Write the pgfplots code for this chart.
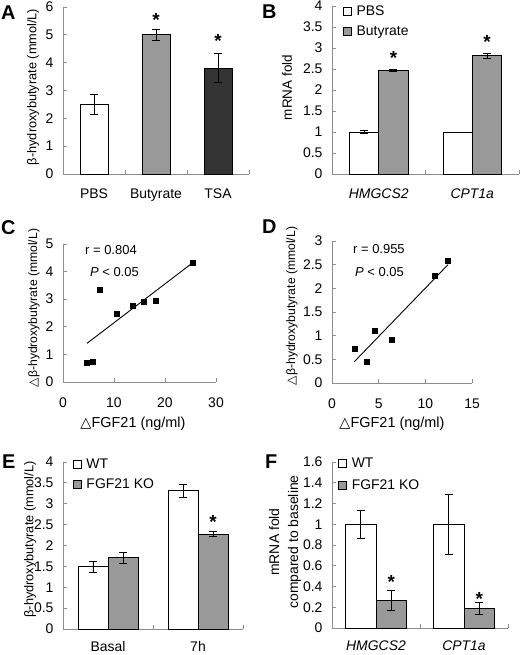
\documentclass[border=0pt]{standalone}
\usepackage{fontspec}
\setmainfont{Liberation Sans}
\newfontfamily\dejavu{DejaVu Sans}
\usepackage{pgfplots}
\pgfplotsset{compat=1.18}
\usetikzlibrary{plotmarks}

\definecolor{barfill}{HTML}{999999}
\definecolor{bardark}{HTML}{333333}
\definecolor{axisgray}{HTML}{8C8C8C}

\newcommand\tri{{\dejavu △}}

\pgfplotsset{
  panel/.style={
    scale only axis, anchor=south west, enlargelimits=false, clip=false,
    axis lines*=left,
    axis line style={axisgray, line width=0.8bp},
    tick align=inside, major tick length=4bp, minor tick length=4bp,
    every tick/.style={axisgray, line width=0.8bp},
    tick label style={font=\fontsize{14}{16}\selectfont},
    yticklabel style={xshift=-6bp},
    /pgf/number format/assume math mode=true,
  },
  barpanel/.style={panel,
    ymin=0, xmin=-0.5,
    every major x tick/.style={draw=none},
    xticklabel style={yshift=-11bp},
  },
  bars/.style={ybar, bar width=#1, bar shift=0, draw=black, line width=0.8bp,
    error bars/y dir=both, error bars/y explicit,
    error bars/error bar style={black, line width=0.8bp},
    error bars/error mark options={rotate=90, mark size=4bp, black, line width=0.8bp}},
  swatch/.style={legend image code/.code={
    \draw[##1, line width=0.8bp] (0bp,-3.5bp) rectangle (7.5bp,4bp);
    \path[draw=none, fill=none] (0bp,0bp) -- (12bp,0bp);}},
  star/.style={only marks, mark=text, text mark={*}, text mark as node=true,
    text mark style={font=\bfseries\fontsize{19}{19}\selectfont, yshift=-4.5bp, inner sep=0pt},
    forget plot},
  lgd/.style={legend cell align=left,
    legend style={draw=none, fill=none, inner sep=0pt, row sep=5bp,
      font=\fontsize{14}{16}\selectfont,
      nodes={inner sep=1bp, text height=10bp, text depth=3bp}}},
}
\tikzset{
  ylab/.style={rotate=90, anchor=center, inner sep=0pt},
  xlab/.style={anchor=center, inner sep=0pt, font=\fontsize{14.5}{16}\selectfont},
  note/.style={anchor=west, inner sep=0pt, font=\fontsize{13}{15}\selectfont},
  letter/.style={anchor=north west, inner sep=0pt, font=\bfseries\fontsize{20}{20}\selectfont},
}

\begin{document}
\begin{tikzpicture}[x=1bp, y=1bp]
\useasboundingbox (0,0) rectangle (520,655);

% ---------- A ----------
\begin{axis}[barpanel, at={(63bp,481bp)}, width=186bp, height=167bp,
  xmax=2.5, ymax=6, ytick={0,1,2,3,4,5,6},
  xtick={0,1,2}, xticklabels={PBS,Butyrate,TSA}, minor xtick={0.5,1.5,2.5}]
\addplot[bars=0.45, fill=white] coordinates {(0,2.5) +- (0,0.35)};
\addplot[bars=0.45, fill=barfill] coordinates {(1,5.0) +- (0,0.2)};
\addplot[bars=0.45, fill=bardark] coordinates {(2,3.8) +- (0,0.52)};
\addplot[star] coordinates {(1,5.71) (2,4.93)};
\end{axis}

% ---------- B ----------
\begin{axis}[barpanel, lgd, at={(332bp,481bp)}, width=187bp, height=168bp,
  xmax=1.5, ymax=4, ytick={0,0.5,1,1.5,2,2.5,3,3.5,4},
  xtick={0,1}, xticklabels={\textit{HMGCS2},\textit{CPT1a}}, minor xtick={0.5,1.5},
  legend style={at={(axis description cs:0.059,1)}, anchor=north west, yshift=2bp}]
\addplot[bars=0.314, fill=white, swatch]
  coordinates {(-0.157,1.0) +- (0,0.04) (0.843,1.0) +- (0,0)};
\addlegendentry{PBS}
\addplot[bars=0.314, fill=barfill, swatch]
  coordinates {(0.157,2.46) +- (0,0.02) (1.157,2.82) +- (0,0.06)};
\addlegendentry{Butyrate}
\addplot[star] coordinates {(0.157,2.88) (1.157,3.26)};
\end{axis}

% ---------- C ----------
\begin{axis}[panel, at={(63bp,273bp)}, width=153bp, height=138bp,
  xmin=0, xmax=30, ymin=0, ymax=5, xtick={0,10,20,30}, ytick={0,1,2,3,4,5},
  xticklabel style={yshift=-12bp}]
\addplot[only marks, mark=square*, mark size=2.5bp, black]
  coordinates {(4.7,0.69) (5.8,0.74) (7.2,3.33) (10.6,2.47) (13.6,2.78) (15.8,2.92) (18.1,2.95) (25.5,4.31)};
\addplot[black, line width=0.9bp, no marks] coordinates {(4.7,1.40) (25.5,4.33)};
\node[note] at (axis description cs:0.144,0.957) {r = 0.804};
\node[note] at (axis description cs:0.176,0.797) {\textit{P} < 0.05};
\end{axis}

% ---------- D ----------
\begin{axis}[panel, at={(332bp,272bp)}, width=140bp, height=142bp,
  xmin=0, xmax=15, ymin=0, ymax=3, xtick={0,5,10,15}, ytick={0,0.5,1,1.5,2,2.5,3},
  xticklabel style={yshift=-12bp}]
\addplot[only marks, mark=square*, mark size=2.5bp, black]
  coordinates {(2.39,0.715) (3.68,0.46) (4.57,1.11) (6.43,0.92) (10.96,2.27) (12.43,2.58)};
\addplot[black, line width=0.9bp, no marks] coordinates {(2.39,0.45) (12.43,2.50)};
\node[note] at (axis description cs:0.15,0.944) {r = 0.955};
\node[note] at (axis description cs:0.164,0.78) {\textit{P} < 0.05};
\end{axis}

% ---------- E ----------
\begin{axis}[barpanel, lgd, at={(63bp,26bp)}, width=180bp, height=167bp,
  xmax=1.5, ymax=4, ytick={0,0.5,1,1.5,2,2.5,3,3.5,4},
  xtick={0,1}, xticklabels={Basal,7h}, minor xtick={0.5,1.5},
  xticklabel style={yshift=2bp},
  legend style={at={(axis description cs:0.055,1)}, anchor=north west, yshift=5bp}]
\addplot[bars=0.333, fill=white, swatch]
  coordinates {(-0.1667,1.49) +- (0,0.14) (0.8333,3.31) +- (0,0.16)};
\addlegendentry{WT}
\addplot[bars=0.333, fill=barfill, swatch]
  coordinates {(0.1667,1.71) +- (0,0.13) (1.1667,2.27) +- (0,0.06)};
\addlegendentry{FGF21 KO}
\addplot[star] coordinates {(1.1667,2.66)};
\end{axis}

% ---------- F ----------
\begin{axis}[barpanel, lgd, at={(332bp,27bp)}, width=176bp, height=166bp,
  xmax=1.5, ymax=1.6, ytick={0,0.2,0.4,0.6,0.8,1,1.2,1.4,1.6},
  xtick={0,1}, xticklabels={\textit{HMGCS2},\textit{CPT1a}}, minor xtick={0.5,1.5},
  xticklabel style={yshift=2bp},
  legend style={at={(axis description cs:0.035,1)}, anchor=north west, yshift=6bp, row sep=7bp}]
\addplot[bars=0.35, fill=white, swatch]
  coordinates {(-0.175,1.0) +- (0,0.136) (0.825,1.0) +- (0,0.29)};
\addlegendentry{WT}
\addplot[bars=0.35, fill=barfill, swatch]
  coordinates {(0.175,0.265) +- (0,0.094) (1.175,0.187) +- (0,0.06)};
\addlegendentry{FGF21 KO}
\addplot[star] coordinates {(0.175,0.49) (1.175,0.32)};
\end{axis}

% axis titles
\node[ylab, font=\fontsize{12.8}{15}\selectfont] at (33,568) {β-hydroxybutyrate (mmol/L)};
\node[ylab, font=\fontsize{13.5}{15}\selectfont] at (287,567.5) {mRNA fold};
\node[ylab, font=\fontsize{12.2}{15}\selectfont] at (34,347) {\tri β-hydroxybutyrate (mmol/L)};
\node[ylab, font=\fontsize{12.2}{15}\selectfont] at (292,349) {\tri β-hydroxybutyrate (mmol/L)};
\node[xlab] at (133,231) {\tri FGF21 (ng/ml)};
\node[xlab] at (392,231) {\tri FGF21 (ng/ml)};
\node[ylab, font=\fontsize{12.8}{15}\selectfont] at (30,115.5) {β-hydroxybutyrate (mmol/L)};
\node[ylab, align=center, font=\fontsize{14}{19}\selectfont] at (285,113) {mRNA fold\\compared to baseline};

\node[letter] at (1,649) {A};
\node[letter] at (262,650) {B};
\node[letter] at (1,435) {C};
\node[letter] at (262,435) {D};
\node[letter] at (2,200) {E};
\node[letter] at (265,200) {F};
\end{tikzpicture}
\end{document}
